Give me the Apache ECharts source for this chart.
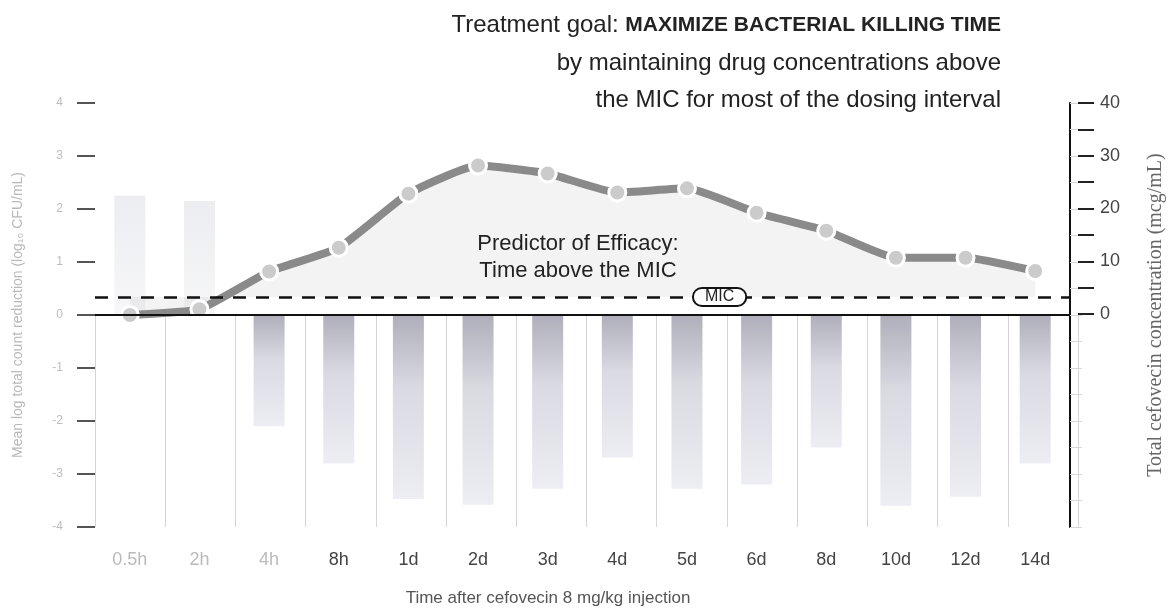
<!DOCTYPE html>
<html>
<head>
    <meta charset="UTF-8">
    <title>Cefovecin time above MIC</title>
    <script src="https://cdn.jsdelivr.net/npm/echarts@6/dist/echarts.min.js"></script>
    <style>
        html, body { margin: 0; padding: 0; background: #fff; }
        #chart { width: 1174px; height: 612px; }
    </style>
</head>
<body>
    <div id="chart"></div>
    <script>
        // data
        var times = ['0.5h', '2h', '4h', '8h', '1d', '2d', '3d', '4d', '5d', '6d', '8d', '10d', '12d', '14d'];
        // mean log total count reduction (left axis)
        var logReduction = [2.25, 2.15, -2.1, -2.8, -3.47, -3.58, -3.28, -2.69, -3.28, -3.2, -2.5, -3.6, -3.43, -2.8];
        // total cefovecin concentration, mcg/mL (right axis)
        var concentration = [0, 1.1, 8.2, 12.7, 22.9, 28.2, 26.7, 23.1, 23.9, 19.3, 15.9, 10.8, 10.8, 8.3];
        var micValue = 3.4;
        var rightTicks = [0, 10, 20, 30, 40];
        var fadedLabels = ['0.5h', '2h', '4h'];  // these print very faint in the original

        var font = 'Liberation Sans, Arial, sans-serif';
        var chart = echarts.init(document.getElementById('chart'));

        var barData = logReduction.map(function (v) {
            if (v > 0) {
                return {
                    value: v,
                    itemStyle: {
                        color: new echarts.graphic.LinearGradient(0, 0, 0, 1, [
                            { offset: 0, color: '#ecedf1' },
                            { offset: 1, color: '#f7f7f9' }
                        ])
                    }
                };
            }
            return v;
        });

        var option = {
            backgroundColor: '#fff',
            animation: false,
            textStyle: { fontFamily: font },
            title: [
                {
                    text: '{a|Treatment goal: }{b|MAXIMIZE BACTERIAL KILLING TIME}',
                    right: 168, top: 8,
                    textStyle: {
                        rich: {
                            a: { fontFamily: font, fontWeight: 'normal', fontSize: 24, color: '#222' },
                            b: { fontFamily: font, fontWeight: 'bold', fontSize: 21, color: '#222' }
                        }
                    }
                },
                {
                    text: 'by maintaining drug concentrations above',
                    right: 168, top: 46,
                    textStyle: { fontFamily: font, fontSize: 24, fontWeight: 'normal', color: '#222' }
                },
                {
                    text: 'the MIC for most of the dosing interval',
                    right: 168, top: 83,
                    textStyle: { fontFamily: font, fontSize: 24, fontWeight: 'normal', color: '#222' }
                },
                {
                    text: 'Predictor of Efficacy:\nTime above the MIC',
                    left: 573, top: 225, textAlign: 'center',
                    textStyle: { fontFamily: font, fontSize: 22, fontWeight: 'normal', color: '#222', lineHeight: 27, align: 'center' }
                },
                {
                    text: 'Time after cefovecin 8 mg/kg injection',
                    left: 543, top: 585, textAlign: 'center',
                    textStyle: { fontFamily: font, fontSize: 17, fontWeight: 'normal', color: '#555' }
                }
            ],
            grid: [
                { left: 95, right: 96, top: 103, bottom: 85 },
                { left: 95, right: 96, top: 103, bottom: 298 },
                { left: 95, right: 96, top: 314, bottom: 85 }
            ],
            xAxis: [
                {
                    type: 'category', gridIndex: 0, data: times,
                    axisLine: { lineStyle: { color: '#111', width: 2 } },
                    axisTick: { show: false },
                    axisLabel: {
                        fontSize: 18, margin: 24,
                        color: function (v) { return fadedLabels.indexOf(v) >= 0 ? '#bbbbbb' : '#444'; }
                    },
                    splitLine: { show: false }
                },
                {
                    type: 'category', gridIndex: 1, data: times, show: false
                },
                {
                    type: 'category', gridIndex: 2, data: times,
                    axisLine: { show: false },
                    axisTick: { show: false },
                    axisLabel: { show: false },
                    splitLine: { show: true, lineStyle: { color: '#d4d4d4', width: 1 } }
                }
            ],
            yAxis: [
                {
                    type: 'value', gridIndex: 0, position: 'left',
                    min: -4, max: 4, interval: 1,
                    name: 'Mean log total count reduction (log\u2081\u2080 CFU/mL)',
                    nameLocation: 'middle', nameRotate: 90, nameGap: 70,
                    nameTextStyle: { color: '#b8b8b8', fontSize: 14 },
                    axisLine: { show: false },
                    axisTick: { show: true, length: 18, lineStyle: { color: '#555', width: 2 } },
                    axisLabel: { color: '#bdbdbd', fontSize: 12, margin: 32 },
                    splitLine: { show: false }
                },
                {
                    type: 'value', gridIndex: 0, position: 'right',
                    min: -40, max: 40, interval: 5,
                    name: 'Total cefovecin concentration (mcg/mL)',
                    nameLocation: 'middle', nameRotate: 90, nameGap: 76,
                    nameTextStyle: { color: '#666', fontSize: 20, fontFamily: 'Liberation Serif, serif' },
                    axisLine: { show: true, lineStyle: { color: '#111', width: 2 } },
                    axisTick: { show: true, length: 12, lineStyle: { color: '#d8d8d8', width: 1 } },
                    axisLabel: { show: false },
                    splitLine: { show: false }
                },
                {
                    type: 'value', gridIndex: 1, position: 'right',
                    min: 0, max: 40, interval: 5,
                    axisLine: { show: false },
                    axisTick: { show: true, length: 16, lineStyle: { color: '#222', width: 2 } },
                    axisLabel: {
                        color: '#444', fontSize: 18, margin: 22,
                        formatter: function (v) { return rightTicks.indexOf(v) >= 0 ? String(v) : ''; }
                    },
                    splitLine: { show: false }
                },
                {
                    type: 'value', gridIndex: 2, show: false, min: 0, max: 1
                }
            ],
            series: [
                {
                    name: 'Log reduction',
                    type: 'bar',
                    xAxisIndex: 0, yAxisIndex: 0,
                    barWidth: 31,
                    data: barData,
                    itemStyle: {
                        color: new echarts.graphic.LinearGradient(0, 0, 0, 1, [
                            { offset: 0, color: '#aeafba' },
                            { offset: 0.4, color: '#d9dae2' },
                            { offset: 1, color: '#edeef3' }
                        ])
                    },
                    markLine: {
                        silent: true, symbol: 'none',
                        lineStyle: { color: '#111', width: 2, type: 'solid' },
                        label: { show: false },
                        data: [{ yAxis: 0 }]
                    },
                    z: 2
                },
                {
                    name: 'Concentration',
                    type: 'line',
                    xAxisIndex: 0, yAxisIndex: 1,
                    data: concentration,
                    smooth: 0.15,
                    symbol: 'circle',
                    symbolSize: 17,
                    lineStyle: { color: '#8a8a8a', width: 8 },
                    itemStyle: { color: '#cbcbcb', borderColor: '#fff', borderWidth: 3 },
                    areaStyle: { origin: micValue, color: 'rgba(0,0,0,0.065)' },
                    markLine: {
                        silent: true, symbol: 'none',
                        lineStyle: { color: '#111', width: 2.5, type: [13, 10] },
                        label: { show: false },
                        data: [{ yAxis: micValue }]
                    },
                    markPoint: {
                        silent: true,
                        symbol: 'rect', symbolSize: 0,
                        label: {
                            show: true, formatter: 'MIC',
                            offset: [-37, 0],
                            color: '#222', fontSize: 16,
                            backgroundColor: '#fff',
                            borderColor: '#111', borderWidth: 2, borderRadius: 9,
                            padding: [0, 11, 0, 11]
                        },
                        data: [{ coord: ['6d', micValue] }]
                    },
                    z: 3
                }
            ]
        };

        chart.setOption(option);
    </script>
</body>
</html>
